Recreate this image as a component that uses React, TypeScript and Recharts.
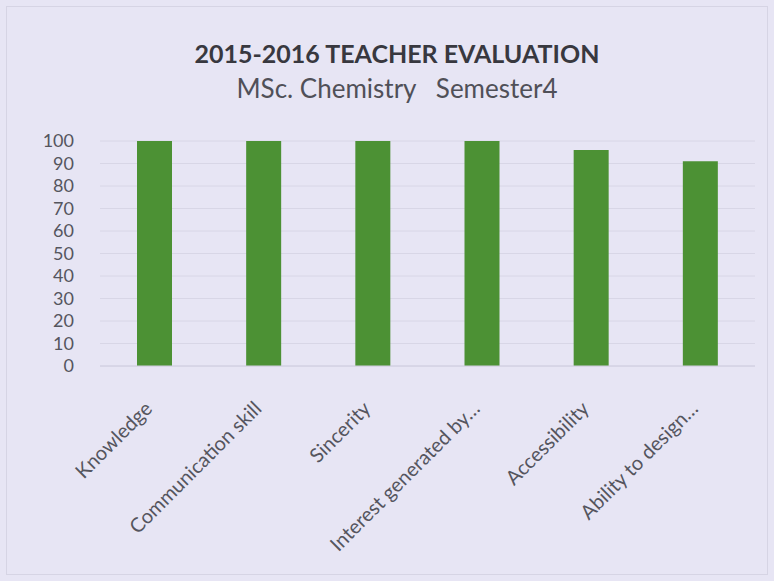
import { BarChart, Bar, XAxis, YAxis, CartesianGrid } from "recharts";

const categories = [
  "Knowledge",
  "Communication skill",
  "Sincerity",
  "Interest generated by…",
  "Accessibility",
  "Ability to design…",
];
const scores = [100, 100, 100, 100, 96, 91];
const yTicks = [0, 10, 20, 30, 40, 50, 60, 70, 80, 90, 100];

const data = categories.map((name, i) => ({ name, score: scores[i] }));

const font = "Lato, 'Open Sans', sans-serif";

export default function App() {
  return (
    <div
      style={{
        position: "fixed",
        left: 0,
        top: 0,
        width: 774,
        height: 581,
        background: "#e7e5f4",
        fontFamily: font,
      }}
    >
      <div
        style={{
          position: "absolute",
          left: 6,
          top: 6,
          width: 760,
          height: 567,
          border: "1px solid #d6d4e4",
        }}
      />
      <div
        style={{
          position: "absolute",
          top: 41,
          width: 794,
          textAlign: "center",
          fontSize: 25,
          lineHeight: "25px",
          fontWeight: 700,
          color: "#38383f",
        }}
      >
        2015-2016 TEACHER EVALUATION
      </div>
      <div
        style={{
          position: "absolute",
          top: 75,
          width: 794,
          textAlign: "center",
          fontSize: 26,
          lineHeight: "26px",
          color: "#505058",
          whiteSpace: "pre",
        }}
      >
        {"MSc. Chemistry   Semester4"}
      </div>
      <div style={{ position: "absolute", left: 0, top: 0 }}>
        <BarChart
          width={774}
          height={581}
          data={data}
          margin={{ top: 141, right: 19, bottom: 0, left: 40 }}
          barSize={35}
        >
          <CartesianGrid vertical={false} stroke="#d8d6e6" />
          <XAxis
            dataKey="name"
            interval={0}
            tickLine={false}
            axisLine={{ stroke: "#d0cee0" }}
            height={215}
            tick={(props: any) => {
              const { x, payload } = props;
              const ax = x - 1;
              const ay = 410;
              return (
                <text
                  x={ax}
                  y={ay}
                  transform={`rotate(-45, ${ax}, ${ay})`}
                  textAnchor="end"
                  fontSize={20}
                  fill="#55555e"
                  fontFamily={font}
                >
                  {payload.value}
                </text>
              );
            }}
          />
          <YAxis
            width={60}
            domain={[0, 100]}
            ticks={yTicks}
            interval={0}
            tickLine={false}
            axisLine={false}
            tickMargin={20}
            tick={{ fontSize: 18, fill: "#55555e", fontFamily: font }}
          />
          <Bar dataKey="score" fill="#4c9134" isAnimationActive={false} />
        </BarChart>
      </div>
    </div>
  );
}
